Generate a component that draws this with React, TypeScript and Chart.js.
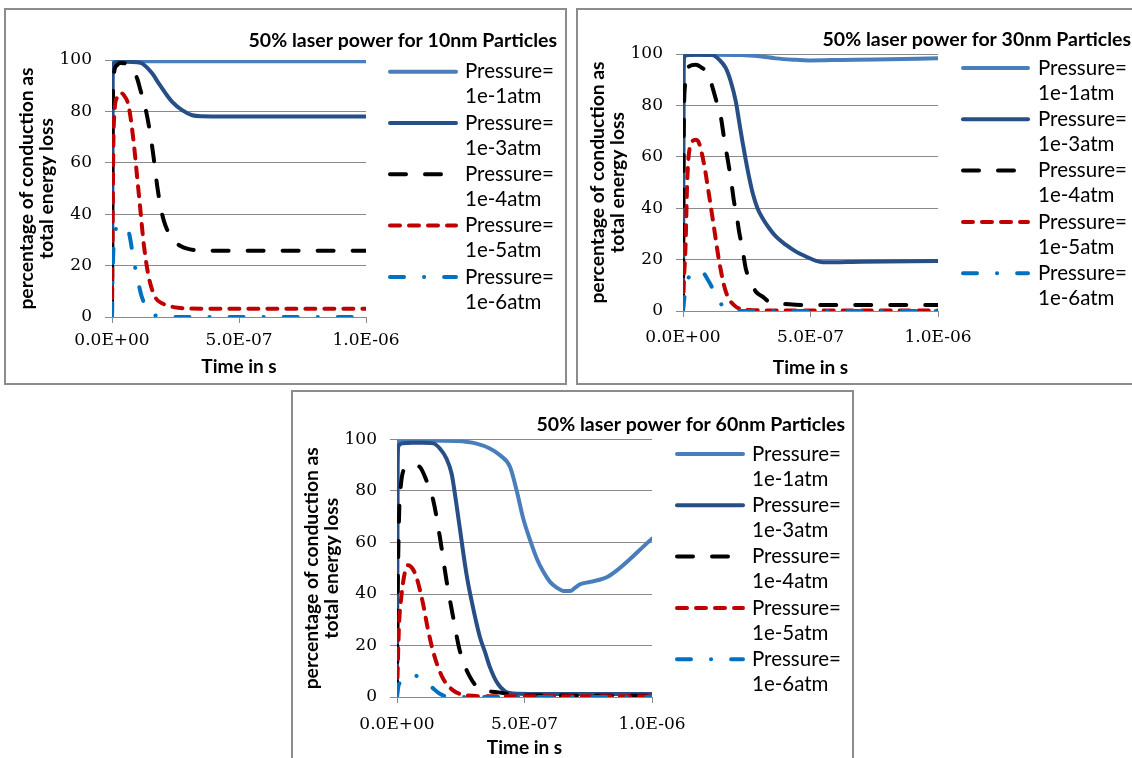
import React, { useEffect, useRef } from "react";
import { Chart, registerables } from "chart.js";

Chart.register(...registerables);

// ---------- text ----------
const TITLES = [
  "50% laser power for 10nm Particles",
  "50% laser power for 30nm Particles",
  "50% laser power for 60nm Particles",
];
const LEGEND_PREFIX = "Pressure=";
const SERIES_LABELS = ["1e-1atm", "1e-3atm", "1e-4atm", "1e-5atm", "1e-6atm"];
const X_AXIS_TITLE = "Time in s";
const Y_AXIS_TITLE = ["percentage of conduction as", "total energy loss"];
const X_TICKS_NS = [0, 500, 1000]; // shown as 0.0E+00, 5.0E-07, 1.0E-06
const Y_TICKS = [0, 20, 40, 60, 80, 100];

// ---------- data (time in ns, value in %) ----------
// 10 nm
const T10_A = [0, 2, 6, 20, 200, 500, 1000];
const V10_A = [0, 95, 99.3, 99.5, 99.5, 99.5, 99.5];
const T10_B = [0, 2, 6, 20, 60, 100, 118, 158, 184, 211, 237, 276, 316, 355, 450, 700, 1000];
const V10_B = [0, 92, 98.5, 99.2, 99.3, 99.1, 98.7, 94.8, 90.9, 87, 83.7, 80.5, 78.5, 78.1, 78, 78, 78];
const T10_C = [0, 3, 8, 20, 33, 50, 70, 85, 99, 112, 132, 151, 164, 178, 191, 204, 224, 243, 270, 296, 330, 360, 450, 1000];
const V10_C = [0, 80, 95, 98, 98.8, 98.7, 97.5, 95.5, 92.8, 88.3, 81.1, 71, 62, 51, 43, 37.5, 32.5, 29.8, 27.6, 26.6, 26, 25.8, 25.8, 25.8];
const T10_D = [0, 2, 5, 10, 20, 33, 45, 66, 86, 99, 112, 125, 145, 171, 200, 224, 260, 303, 400, 1000];
const V10_D = [0, 30, 65, 80, 85.5, 87.2, 86.5, 81.8, 67.4, 54.4, 41.4, 28.4, 15.4, 7.6, 5.2, 4.3, 3.6, 3.3, 3.2, 3.2];
const T10_E = [0, 2, 5, 12, 25, 45, 66, 86, 105, 118, 151, 190, 224, 400, 1000];
const V10_E = [0, 14, 25, 33, 35.3, 35.5, 33, 21.9, 12.8, 7.6, 1.7, 0.3, 0, 0, 0];

// 30 nm
const T30_A = [0, 2, 6, 20, 100, 230, 300, 364, 430, 495, 626, 757, 1000];
const V30_A = [0, 95, 99.4, 99.7, 99.7, 99.6, 99.1, 98.3, 97.8, 97.5, 97.7, 97.9, 98.3];
const T30_B = [0, 2, 6, 20, 60, 115, 142, 168, 187, 207, 220, 233, 246, 260, 275, 292, 312, 338, 364, 404, 443, 482, 522, 548, 700, 1000];
const V30_B = [0, 93, 99, 99.6, 99.7, 99.6, 97.8, 94.5, 89.4, 81.6, 73.8, 66, 58.8, 51.7, 45.2, 40, 36.1, 32.2, 29, 25.7, 23.1, 21.2, 19.5, 19, 19.2, 19.5];
const T30_C = [0, 3, 8, 15, 24, 50, 76, 96, 135, 148, 161, 170, 181, 191, 200, 211, 220, 233, 246, 266, 286, 312, 338, 417, 495, 1000];
const V30_C = [0, 70, 88, 93, 95.2, 95.8, 94.5, 92.6, 80.3, 75.7, 67.3, 62, 55.6, 49.1, 42.6, 36.8, 30.9, 24.4, 16.6, 11.4, 7.5, 5.6, 3.6, 2.6, 2.3, 2.3];
const T30_D = [0, 3, 10, 17, 30, 50, 63, 83, 102, 122, 142, 168, 200, 260, 350, 1000];
const V30_D = [0, 10, 25.7, 51.7, 64.7, 66.6, 65.3, 56.9, 45.2, 32.2, 19.2, 7.5, 2.3, 0.4, 0.2, 0.2];
const T30_E = [0, 5, 13, 24, 50, 69, 102, 122, 142, 174, 207, 1000];
const V30_E = [0, 4.9, 10, 13.4, 15.3, 15.6, 11.4, 7.5, 3.6, 1, 0, 0];

// 60 nm
const T60_A = [0, 2, 6, 20, 100, 233, 312, 364, 404, 443, 469, 495, 522, 548, 574, 600, 626, 653, 679, 699, 718, 758, 830, 1000];
const V60_A = [0, 95, 99.3, 99.5, 99.6, 99.4, 98.4, 96.5, 93.9, 89.4, 80.3, 69.3, 60.9, 53.8, 48.6, 44.7, 42.5, 41.2, 41.2, 42.5, 43.8, 44.7, 46.9, 61.5];
const T60_B = [0, 2, 6, 20, 60, 100, 142, 168, 194, 214, 227, 240, 253, 266, 279, 292, 309, 325, 345, 364, 391, 423, 469, 600, 1000];
const V60_B = [0, 90, 97.5, 98.5, 98.7, 98.7, 98.5, 96.5, 92.6, 86.8, 79, 70, 60.9, 51.8, 44, 37.6, 29.8, 23.3, 17.5, 11.7, 5.8, 2.3, 1.3, 1.2, 1.2];
const T60_C = [0, 3, 8, 15, 30, 63, 89, 115, 142, 168, 194, 220, 246, 286, 325, 391, 495, 1000];
const V60_C = [0, 40, 70, 82, 88.7, 90, 89.4, 84.2, 76.4, 62.2, 45.3, 31.1, 18.1, 7.8, 3.2, 1.9, 0.6, 0.5];
const T60_D = [0, 3, 8, 17, 30, 43, 60, 76, 102, 122, 148, 181, 220, 273, 350, 1000];
const V60_D = [0, 12, 28, 38.9, 48, 51.2, 50, 46.6, 36.3, 25.9, 15.5, 7.1, 2.6, 0.6, 0.3, 0.3];
const T60_E = [0, 5, 10, 20, 40, 60, 76, 100, 120, 135, 160, 181, 220, 1000];
const V60_E = [0, 4, 5.5, 6.5, 7.8, 8.5, 8.2, 6.5, 4.8, 3.9, 1.8, 0.6, 0, 0];

const PANEL_SERIES = [
  [[T10_A, V10_A], [T10_B, V10_B], [T10_C, V10_C], [T10_D, V10_D], [T10_E, V10_E]],
  [[T30_A, V30_A], [T30_B, V30_B], [T30_C, V30_C], [T30_D, V30_D], [T30_E, V30_E]],
  [[T60_A, V60_A], [T60_B, V60_B], [T60_C, V60_C], [T60_D, V60_D], [T60_E, V60_E]],
];

// ---------- styles ----------
const SERIES_STYLE = [
  { color: "#4A7EBB", dash: [] as number[] },
  { color: "#284E86", dash: [] as number[] },
  { color: "#000000", dash: [16, 19] },
  { color: "#C00000", dash: [10, 9] },
  { color: "#0070C0", dash: [14, 20, 0.1, 20] },
];

const SANS = "Lato, 'Open Sans', sans-serif";
const SERIF = "'DejaVu Serif', serif";
const TITLE_SIZE = 19.5;
const X_TITLE_SIZE = 19;
const Y_TITLE_SIZE = 19.3;
const LEGEND_SIZE = 20.5;
const TICK_SIZE = 17;
const GRID = "#8a8a8a";

// layout per panel (page box, canvas and plot area in canvas coords)
const PANELS = [
  {
    box: { left: 4, top: 8, width: 563, height: 377 },
    canvas: { left: 6, top: 10, width: 559, height: 373 },
    area: { L: 106, R: 360, T: 50, B: 307 },
    yTitleX: 20.7, tickY: 331, xTitleY: 357,
    titleRight: 551, titleY: 31,
    legend: { x0: 384, x1: 450, tx: 459, y0: 61.7, step: 51.3, gap: 25 },
  },
  {
    box: { left: 576, top: 8, width: 600, height: 377 },
    canvas: { left: 578, top: 10, width: 554, height: 373 },
    area: { L: 105, R: 360, T: 44, B: 301 },
    yTitleX: 19.7, tickY: 328, xTitleY: 358,
    titleRight: 553, titleY: 30,
    legend: { x0: 385, x1: 450, tx: 460, y0: 58, step: 51.3, gap: 25 },
  },
  {
    box: { left: 291, top: 390, width: 563, height: 400 },
    canvas: { left: 293, top: 392, width: 560, height: 366 },
    area: { L: 104, R: 359, T: 47.5, B: 305 },
    yTitleX: 18.7, tickY: 333, xTitleY: 356,
    titleRight: 552, titleY: 33,
    legend: { x0: 384, x1: 450, tx: 459, y0: 62, step: 51.3, gap: 25 },
  },
];

function fmtSci(v: number): string {
  const [m, e] = v.toExponential(1).split("e");
  const sign = e[0] === "-" ? "-" : "+";
  const digits = e.replace(/^[+-]/, "").padStart(2, "0");
  return m + "E" + sign + digits;
}

const decorPlugin = {
  id: "decor",
  afterDraw(chart: any, _args: any, opts: any) {
    const ctx = chart.ctx as CanvasRenderingContext2D;
    ctx.save();
    ctx.fillStyle = "#000";
    ctx.textBaseline = "middle";
    ctx.font = `bold ${TITLE_SIZE}px ${SANS}`;
    ctx.textAlign = "right";
    ctx.fillText(opts.title, opts.titleRight, opts.titleY);

    const lg = opts.legend;
    chart.data.datasets.forEach((ds: any, i: number) => {
      const y = lg.y0 + i * lg.step;
      ctx.beginPath();
      ctx.strokeStyle = ds.borderColor;
      ctx.lineWidth = ds.borderWidth;
      ctx.lineCap = "round";
      ctx.setLineDash(ds.borderDash || []);
      ctx.moveTo(lg.x0, y);
      ctx.lineTo(lg.x1, y);
      ctx.stroke();
      ctx.setLineDash([]);
      ctx.font = `${LEGEND_SIZE}px ${SANS}`;
      ctx.textAlign = "left";
      ctx.fillStyle = "#000";
      ctx.fillText(LEGEND_PREFIX, lg.tx, y);
      ctx.fillText(SERIES_LABELS[i], lg.tx, y + lg.gap);
    });
    ctx.restore();
  },
};

function buildConfig(pi: number): any {
  const p = PANELS[pi];
  const { L, R, T, B } = p.area;
  const W = p.canvas.width;
  const H = p.canvas.height;
  const xAxisH = H - B;
  const xTitleLH = X_TITLE_SIZE * 1.2;
  const tickLH = TICK_SIZE * 1.2;
  const datasets = PANEL_SERIES[pi].map(([ts, vs], i) => ({
    label: LEGEND_PREFIX + " " + SERIES_LABELS[i],
    data: ts.map((t, k) => ({ x: t, y: vs[k] })),
    borderColor: SERIES_STYLE[i].color,
    backgroundColor: SERIES_STYLE[i].color,
    borderWidth: 4,
    borderDash: SERIES_STYLE[i].dash,
    borderCapStyle: "round",
    borderJoinStyle: "round",
    pointRadius: 0,
    fill: false,
    tension: 0.4,
    cubicInterpolationMode: "monotone",
    order: 5 - i,
  }));
  return {
    type: "line",
    data: { datasets },
    plugins: [decorPlugin],
    options: {
      animation: false,
      responsive: false,
      devicePixelRatio: 1,
      parsing: false,
      layout: { padding: { left: 0, top: T, right: W - R, bottom: 0 } },
      plugins: {
        legend: { display: false },
        tooltip: { enabled: false },
        title: { display: false },
        decor: {
          title: TITLES[pi],
          titleRight: p.titleRight,
          titleY: p.titleY,
          legend: p.legend,
        },
      },
      scales: {
        x: {
          type: "linear",
          min: 0,
          max: 1000,
          afterBuildTicks: (scale: any) => {
            scale.ticks = X_TICKS_NS.map((v) => ({ value: v }));
          },
          afterFit: (scale: any) => {
            scale.height = xAxisH;
          },
          ticks: {
            callback: (v: number) => fmtSci(v * 1e-9),
            font: { family: SERIF, size: TICK_SIZE },
            color: "#000",
            padding: p.tickY - B - 6 - tickLH / 2,
            maxRotation: 0,
            autoSkip: false,
          },
          grid: {
            drawOnChartArea: false,
            drawTicks: true,
            tickLength: 6,
            color: GRID,
            lineWidth: 1,
          },
          border: { display: true, color: GRID, width: 1 },
          title: {
            display: true,
            text: X_AXIS_TITLE,
            font: { family: SANS, size: X_TITLE_SIZE, weight: "bold", lineHeight: 1.2 },
            color: "#000",
            padding: { top: 0, bottom: H - p.xTitleY - xTitleLH / 2 },
          },
        },
        y: {
          type: "linear",
          min: 0,
          max: 100,
          afterBuildTicks: (scale: any) => {
            scale.ticks = Y_TICKS.map((v) => ({ value: v }));
          },
          afterFit: (scale: any) => {
            scale.width = L;
          },
          ticks: {
            font: { family: SERIF, size: TICK_SIZE },
            color: "#000",
            padding: 13,
          },
          grid: {
            drawTicks: true,
            tickLength: 7,
            color: GRID,
            lineWidth: 1,
          },
          border: { display: true, color: GRID, width: 1 },
          title: {
            display: true,
            text: Y_AXIS_TITLE,
            font: { family: SANS, size: Y_TITLE_SIZE, weight: "bold", lineHeight: 20 / Y_TITLE_SIZE },
            color: "#000",
            padding: { top: p.yTitleX - 10, bottom: 0 },
          },
        },
      },
    },
  };
}

function Panel({ index }: { index: number }) {
  const ref = useRef<HTMLCanvasElement | null>(null);
  useEffect(() => {
    if (!ref.current) return;
    const chart = new Chart(ref.current, buildConfig(index));
    return () => chart.destroy();
  }, [index]);
  const p = PANELS[index];
  return (
    <>
      <div
        style={{
          position: "absolute",
          left: p.box.left,
          top: p.box.top,
          width: p.box.width,
          height: p.box.height,
          border: "2.5px solid #8c8c8c",
          boxSizing: "border-box",
          background: "#fff",
        }}
      />
      <canvas
        ref={ref}
        width={p.canvas.width}
        height={p.canvas.height}
        style={{
          position: "absolute",
          left: p.canvas.left,
          top: p.canvas.top,
          width: p.canvas.width,
          height: p.canvas.height,
        }}
      />
    </>
  );
}

export default function App() {
  return (
    <div
      style={{
        position: "absolute",
        left: 0,
        top: 0,
        width: 1132,
        height: 758,
        background: "#fff",
        overflow: "hidden",
      }}
    >
      <Panel index={0} />
      <Panel index={1} />
      <Panel index={2} />
    </div>
  );
}
